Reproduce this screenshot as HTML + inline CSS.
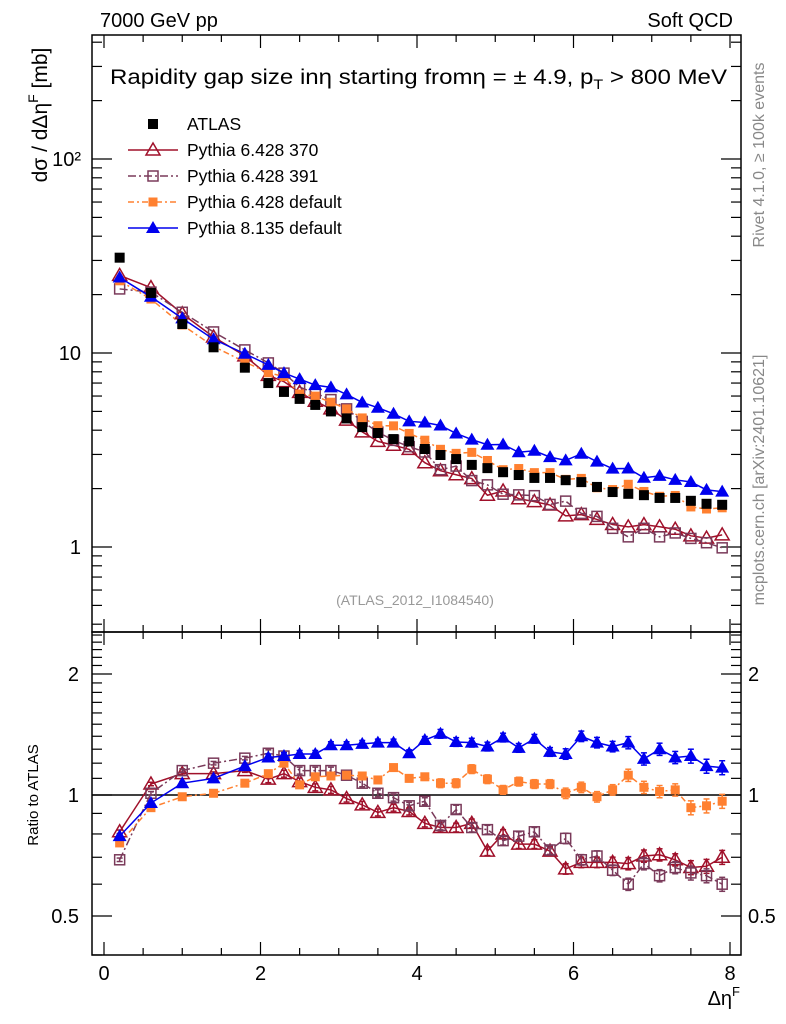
<!DOCTYPE html>
<html><head><meta charset="utf-8"><style>
html,body{margin:0;padding:0;background:#fff}
svg{display:block;font-family:"Liberation Sans","DejaVu Sans",sans-serif}
</style></head><body>
<svg id="chart" width="786" height="1024" viewBox="0 0 786 1024" xmlns="http://www.w3.org/2000/svg">
<text x="100" y="27" font-size="20">7000 GeV pp</text>
<text x="733" y="27" font-size="20" text-anchor="end">Soft QCD</text>
<text x="110" y="84" font-size="21" textLength="617" lengthAdjust="spacingAndGlyphs">Rapidity gap size in<tspan>η</tspan> starting from<tspan>η</tspan> = ± 4.9, p<tspan font-size="14" dy="5">T</tspan><tspan dy="-5"> &gt; 800 MeV</tspan></text>
<text transform="translate(47,115) rotate(-90)" font-size="21" text-anchor="middle">dσ / dΔη<tspan font-size="14" dy="-9">F</tspan><tspan dy="9"> [mb]</tspan></text>
<text transform="translate(38,795) rotate(-90)" font-size="15" text-anchor="middle">Ratio to ATLAS</text>
<text transform="translate(764,155) rotate(-90)" font-size="16" fill="#888" text-anchor="middle">Rivet 4.1.0, ≥ 100k events</text>
<text transform="translate(764,480) rotate(-90)" font-size="16" fill="#888" text-anchor="middle">mcplots.cern.ch [arXiv:2401.10621]</text>
<text x="415" y="605" font-size="14" fill="#999" text-anchor="middle">(ATLAS_2012_I1084540)</text>
<text x="740" y="1005" font-size="20" text-anchor="end">Δη<tspan font-size="13" dy="-9">F</tspan></text>
<g id="axes"></g>
<g id="marks"></g>
<g id="legend"></g>
</svg>
<script>
const categories=[0.2,0.6,1.0,1.4,1.8,2.1,2.3,2.5,2.7,2.9,3.1,3.3,3.5,3.7,3.9,4.1,4.3,4.5,4.7,4.9,5.1,5.3,5.5,5.7,5.9,6.1,6.3,6.5,6.7,6.9,7.1,7.3,7.5,7.7,7.9];
const atlas=[31,20.4,14.1,10.7,8.4,7.0,6.3,5.8,5.4,5.0,4.6,4.15,3.87,3.6,3.5,3.2,2.98,2.84,2.65,2.55,2.43,2.35,2.27,2.27,2.21,2.16,2.04,1.92,1.88,1.85,1.79,1.79,1.73,1.67,1.65];
const ratioP370=[0.81,1.065,1.13,1.13,1.15,1.095,1.13,1.08,1.045,1.03,0.98,0.945,0.905,0.93,0.91,0.85,0.83,0.83,0.85,0.725,0.80,0.755,0.755,0.725,0.655,0.68,0.68,0.68,0.675,0.705,0.71,0.69,0.66,0.665,0.70];
const ratioP391=[0.69,1.01,1.15,1.20,1.235,1.27,1.25,1.15,1.15,1.15,1.12,1.07,1.01,0.985,0.94,0.965,0.84,0.92,0.83,0.82,0.77,0.79,0.81,0.73,0.78,0.69,0.705,0.65,0.60,0.675,0.63,0.66,0.64,0.63,0.60];
const ratioP6def=[0.76,0.93,0.99,1.01,1.07,1.13,1.20,1.06,1.11,1.115,1.12,1.115,1.09,1.17,1.10,1.11,1.07,1.07,1.16,1.095,1.03,1.08,1.065,1.065,1.01,1.045,0.99,1.03,1.12,1.045,1.02,1.03,0.93,0.94,0.965];
const ratioP8=[0.79,0.955,1.07,1.10,1.18,1.24,1.25,1.265,1.265,1.33,1.33,1.34,1.35,1.35,1.27,1.37,1.42,1.355,1.35,1.32,1.39,1.31,1.38,1.28,1.265,1.40,1.35,1.32,1.35,1.23,1.30,1.24,1.25,1.18,1.17];
const relErr=[0.01,0.01,0.01,0.01,0.01,0.02,0.02,0.02,0.02,0.02,0.02,0.02,0.02,0.02,0.02,0.02,0.025,0.025,0.025,0.025,0.025,0.025,0.025,0.025,0.03,0.03,0.03,0.03,0.035,0.035,0.035,0.035,0.04,0.04,0.04];
const xTicks=[0,2,4,6,8];
const mainTicks=[{v:1,l:"1"},{v:10,l:"10"},{v:100,l:"10²"}];
const ratioTicks=[{v:0.5,l:"0.5"},{v:1,l:"1"},{v:2,l:"2"}];

const NS="http://www.w3.org/2000/svg";
const L=92,R=741,T=35,MB=632,RB=955;
function X(v){return 104+v*(730-104)/8;}
function Y(v){return 547-194*Math.log10(v);}
function YR(v){return 795-402*Math.log10(v);}
function mk(tag,at,parent){const e=document.createElementNS(NS,tag);for(const k in at)e.setAttribute(k,at[k]);parent.appendChild(e);return e;}
const axes=document.getElementById('axes'),marks=document.getElementById('marks'),leg=document.getElementById('legend');

let f1=mk('rect',{x:L,y:T,width:R-L,height:MB-T,fill:'none',stroke:'#000','stroke-width':1.5},axes);


let f2=mk('rect',{x:L,y:MB,width:R-L,height:RB-MB,fill:'none',stroke:'#000','stroke-width':1.5},axes);



for(let v=0;v<=8.001;v+=0.5){
  const major=Math.abs(v-Math.round(v/2)*2)<1e-6;
  const len=major?13:7;
  [[T,1],[MB,-1],[MB,1],[RB,-1]].forEach(([y,d])=>{mk('line',{x1:X(v),x2:X(v),y1:y,y2:y+d*len,stroke:'#000','stroke-width':1.2},axes);});
}
xTicks.forEach(v=>{
  const t=mk('text',{x:X(v),y:980,'font-size':20,'text-anchor':'middle'},axes);
  t.textContent=v;
  
  
});
for(let d=-1;d<=2;d++){for(let m=1;m<=9;m++){const v=m*Math.pow(10,d);const y=Y(v);if(y<T||y>MB)continue;const len=m==1?20:10;
  mk('line',{x1:L,x2:L+len,y1:y,y2:y,stroke:'#000','stroke-width':1.2},axes);
  mk('line',{x1:R,x2:R-len,y1:y,y2:y,stroke:'#000','stroke-width':1.2},axes);}}
mainTicks.forEach(o=>{
  const t=mk('text',{x:81,y:Y(o.v)+7,'font-size':20,'text-anchor':'end'},axes);
  t.textContent=o.l;
  
  
});
for(let v=0.4;v<=2.55;v+=0.1){const y=YR(v);if(y<MB||y>RB)continue;const maj=[0.5,1,2].some(a=>Math.abs(a-v)<1e-6);const len=maj?20:10;
  mk('line',{x1:L,x2:L+len,y1:y,y2:y,stroke:'#000','stroke-width':1.2},axes);
  mk('line',{x1:R,x2:R-len,y1:y,y2:y,stroke:'#000','stroke-width':1.2},axes);}
ratioTicks.forEach(o=>{
  const t=mk('text',{x:79,y:YR(o.v)+7,'font-size':20,'text-anchor':'end'},axes);
  t.textContent=o.l;
  
  
  const t2=mk('text',{x:748,y:YR(o.v)+7,'font-size':20},axes);
  t2.textContent=o.l;
  
  
});
const ref=mk('line',{x1:L,x2:R,y1:YR(1),y2:YR(1),stroke:'#000','stroke-width':1.5},axes);



function marker(g,type,x,y,color){
  if(type=='fsq')return mk('rect',{x:x-5,y:y-5,width:10,height:10,fill:color},g);
  if(type=='sfsq')return mk('rect',{x:x-4.5,y:y-4.5,width:9,height:9,fill:color},g);
  if(type=='osq')return mk('rect',{x:x-5,y:y-5,width:10,height:10,fill:'none',stroke:color,'stroke-width':1.5},g);
  if(type=='otri')return mk('polygon',{points:`${x},${y-7} ${x-7},${y+5} ${x+7},${y+5}`,fill:'none',stroke:color,'stroke-width':1.5},g);
  if(type=='ftri')return mk('polygon',{points:`${x},${y-7} ${x-7},${y+5} ${x+7},${y+5}`,fill:color},g);
}
const series=[
 {name:'pythia-6428-370',ratio:ratioP370,color:'#a0102a',type:'otri',dash:''},
 {name:'pythia-6428-391',ratio:ratioP391,color:'#7a3a5a',type:'osq',dash:'8,3,2,3'},
 {name:'pythia-6428-default',ratio:ratioP6def,color:'#ff8030',type:'sfsq',dash:'6,3,2,3'},
 {name:'pythia-8135-default',ratio:ratioP8,color:'#0000ee',type:'ftri',dash:''}
];
series.forEach(s=>{
  const g=mk('g',{},marks);
  
  
  const main=categories.map((c,i)=>[X(c),Y(atlas[i]*s.ratio[i])]);
  const rat=categories.map((c,i)=>[X(c),YR(s.ratio[i])]);
  mk('polyline',{points:main.map(p=>p.join(',')).join(' '),fill:'none',stroke:s.color,'stroke-width':1.5,'stroke-dasharray':s.dash},g);
  mk('polyline',{points:rat.map(p=>p.join(',')).join(' '),fill:'none',stroke:s.color,'stroke-width':1.5,'stroke-dasharray':s.dash},g);
  categories.forEach((c,i)=>{
    const m=marker(g,s.type,main[i][0],main[i][1],s.color);
    
    
    const e=relErr[i]*s.ratio[i],x=rat[i][0];
    const y1=YR(s.ratio[i]+e),y2=YR(s.ratio[i]-e);
    mk('line',{x1:x,x2:x,y1:y1,y2:y2,stroke:s.color,'stroke-width':1.5},g);
    mk('line',{x1:x-3,x2:x+3,y1:y1,y2:y1,stroke:s.color,'stroke-width':1.5},g);
    mk('line',{x1:x-3,x2:x+3,y1:y2,y2:y2,stroke:s.color,'stroke-width':1.5},g);
    const r=marker(g,s.type,x,rat[i][1],s.color);
    
    
  });
});
const ga=mk('g',{},marks);


categories.forEach((c,i)=>{
  const m=marker(ga,'fsq',X(c),Y(atlas[i]),'#000');
  
  
});
const entries=[{l:'ATLAS',t:'fsq',c:'#000',d:null},{l:'Pythia 6.428 370',t:'otri',c:'#a0102a',d:''},{l:'Pythia 6.428 391',t:'osq',c:'#7a3a5a',d:'8,3,2,3'},{l:'Pythia 6.428 default',t:'sfsq',c:'#ff8030',d:'6,3,2,3'},{l:'Pythia 8.135 default',t:'ftri',c:'#0000ee',d:''}];
entries.forEach((e,i)=>{
  const y=124+i*26;
  const g=mk('g',{},leg);
  
  
  if(e.d!==null)mk('line',{x1:128,x2:178,y1:y,y2:y,stroke:e.c,'stroke-width':1.5,'stroke-dasharray':e.d},g);
  marker(g,e.t,153,y,e.c);
  const t=mk('text',{x:187,y:y+6,'font-size':17.5},g);
  t.textContent=e.l;
});
</script>
</body></html>
